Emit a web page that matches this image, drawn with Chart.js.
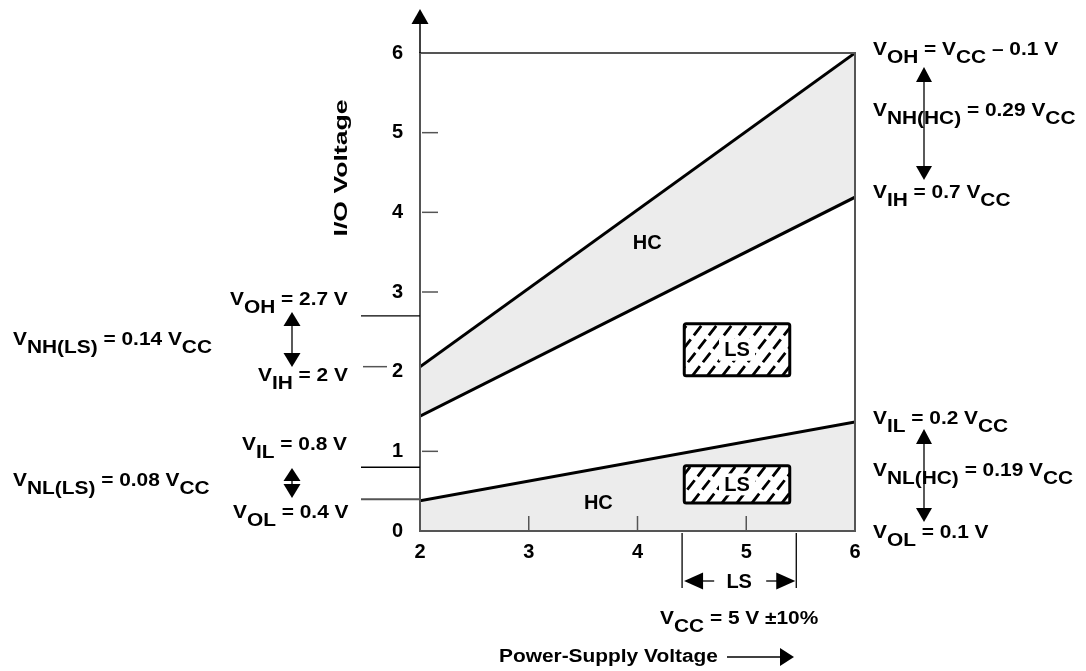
<!DOCTYPE html>
<html><head><meta charset="utf-8">
<script src="https://cdn.jsdelivr.net/npm/chart.js@4/dist/chart.umd.min.js"></script>
<style>html,body{margin:0;padding:0;background:#fff;}#wrap{width:1086px;height:671px;}</style>
</head><body><div id="wrap"><canvas id="c" width="1086" height="671"></canvas></div>
<script>
// ---- data ----
const vccEnds = [2, 6];                 // power-supply voltage at the line ends
const vohHC = [2.06, 6.0];              // VOH = VCC - 0.1 V
const vihHC = [1.44, 4.19];             // VIH = 0.7 VCC
const vilHC = [0.38, 1.37];             // VIL = 0.2 VCC
const xTickValues = [2, 3, 4, 5, 6];
const yTickValues = [0, 1, 2, 3, 4, 5, 6];
const xInnerTicks = [3, 4, 5];
const yInnerTicks = [1, 3, 4, 5];
const yOuterTicks = [2];
const lsVccRange = [4.41, 5.46];        // VCC = 5 V +-10 %
const lsBoxVcc = [4.43, 5.4];
const lsHighBand = [1.95, 2.6];
const lsLowBand = [0.35, 0.82];
const lsLevels = [2.7, 0.8, 0.4];       // VOH, VIL, VOL (LS)
const hcLabelPoints = [[4.09, 3.61], [3.64, 0.35]];

const FONT = '"Liberation Sans", Arial, Helvetica, sans-serif';
const SX = 1.16;    // horizontal stretch of annotation text
const SUBDY = 8;

function rich(ctx, x, y, parts, size) {
  ctx.save();
  ctx.translate(x, y);
  ctx.scale(SX, 1);
  ctx.font = 'bold ' + (size || 18) + 'px ' + FONT;
  ctx.textAlign = 'left';
  ctx.textBaseline = 'alphabetic';
  ctx.fillStyle = '#000';
  let cx = 0;
  parts.forEach((p, i) => {
    ctx.fillText(p, cx, i % 2 === 1 ? SUBDY : 0);
    cx += ctx.measureText(p).width;
  });
  ctx.restore();
}
function tri(ctx, tipX, tipY, dir, len, half) {
  ctx.beginPath();
  if (dir === 'up') { ctx.moveTo(tipX, tipY); ctx.lineTo(tipX - half, tipY + len); ctx.lineTo(tipX + half, tipY + len); }
  else if (dir === 'down') { ctx.moveTo(tipX, tipY); ctx.lineTo(tipX - half, tipY - len); ctx.lineTo(tipX + half, tipY - len); }
  else if (dir === 'left') { ctx.moveTo(tipX, tipY); ctx.lineTo(tipX + len, tipY - half); ctx.lineTo(tipX + len, tipY + half); }
  else { ctx.moveTo(tipX, tipY); ctx.lineTo(tipX - len, tipY - half); ctx.lineTo(tipX - len, tipY + half); }
  ctx.closePath(); ctx.fillStyle = '#000'; ctx.fill();
}
function line(ctx, x0, y0, x1, y1, w, col) {
  ctx.beginPath(); ctx.moveTo(x0, y0); ctx.lineTo(x1, y1);
  ctx.lineWidth = w; ctx.strokeStyle = col || '#000'; ctx.stroke();
}
function lsBox(ctx, x0, x1, y0, y1) {
  ctx.save();
  ctx.fillStyle = '#fff'; ctx.fillRect(x0, y0, x1 - x0, y1 - y0);
  ctx.beginPath(); ctx.rect(x0, y0, x1 - x0, y1 - y0); ctx.clip();
  ctx.strokeStyle = '#000'; ctx.lineWidth = 2.8; ctx.setLineDash([12, 5]);
  const h = y1 - y0;
  for (let s = x0 - h; s < x1 + h; s += 15) {
    ctx.beginPath(); ctx.moveTo(s, y1); ctx.lineTo(s + h * 0.78, y0); ctx.stroke();
  }
  ctx.restore();
  const cx = (x0 + x1) / 2, cy = (y0 + y1) / 2;
  ctx.fillStyle = '#fff'; ctx.fillRect(cx - 18, cy - 11, 36, 22);
  ctx.save();
  ctx.strokeStyle = '#000'; ctx.lineWidth = 3;
  ctx.beginPath(); ctx.roundRect(x0, y0, x1 - x0, y1 - y0, 2); ctx.stroke();
  ctx.restore();
  ctx.fillStyle = '#000'; ctx.font = 'bold 20px ' + FONT;
  ctx.textAlign = 'center'; ctx.textBaseline = 'middle';
  ctx.fillText('LS', cx, cy + 1);
}

const decor = {
  id: 'decor',
  afterDatasetsDraw(chart) {
    const ctx = chart.ctx, xs = chart.scales.x, ys = chart.scales.y, a = chart.chartArea;
    ctx.save();
    // frame
    ctx.strokeStyle = '#555'; ctx.lineWidth = 2;
    ctx.strokeRect(a.left, a.top, a.right - a.left, a.bottom - a.top);
    // y axis arrow
    line(ctx, a.left, a.top, a.left, 22, 1.5, '#000');
    tri(ctx, a.left, 9, 'up', 15, 8.5);
    // inner ticks
    xInnerTicks.forEach(v => { const px = xs.getPixelForValue(v); line(ctx, px, a.bottom, px, a.bottom - 15, 1.5, '#555'); });
    yInnerTicks.forEach(v => { const py = ys.getPixelForValue(v); line(ctx, a.left + 2, py, a.left + 18, py, 1.5, '#555'); });
    yOuterTicks.forEach(v => { const py = ys.getPixelForValue(v) - 5; line(ctx, a.left - 57, py, a.left - 33, py, 1.5, '#555'); });
    // LS level lines
    lsLevels.forEach((v, i) => {
      const py = ys.getPixelForValue(v);
      line(ctx, a.left - 59, py, a.left, py, i === 2 ? 2 : 1.3, i === 2 ? '#555' : '#000');
    });
    // LS boxes
    const bx0 = xs.getPixelForValue(lsBoxVcc[0]), bx1 = xs.getPixelForValue(lsBoxVcc[1]);
    lsBox(ctx, bx0, bx1, ys.getPixelForValue(lsHighBand[1]), ys.getPixelForValue(lsHighBand[0]));
    lsBox(ctx, bx0, bx1, ys.getPixelForValue(lsLowBand[1]), ys.getPixelForValue(lsLowBand[0]));
    // HC labels
    ctx.fillStyle = '#000'; ctx.font = 'bold 20px ' + FONT; ctx.textAlign = 'center'; ctx.textBaseline = 'middle';
    hcLabelPoints.forEach(p => ctx.fillText('HC', xs.getPixelForValue(p[0]), ys.getPixelForValue(p[1])));
    // axis title
    ctx.save(); ctx.translate(342, 168); ctx.rotate(-Math.PI / 2); ctx.scale(1.4, 1);
    ctx.font = 'bold 19px ' + FONT; ctx.textAlign = 'center'; ctx.textBaseline = 'middle';
    ctx.fillText('I/O Voltage', 0, 0); ctx.restore();

    // right-hand annotations
    rich(ctx, 873, 55, ['V', 'OH', ' = V', 'CC', ' \u2013 0.1 V']);
    rich(ctx, 873, 116, ['V', 'NH(HC)', ' = 0.29 V', 'CC']);
    rich(ctx, 873, 198, ['V', 'IH', ' = 0.7 V', 'CC']);
    line(ctx, 924, 80, 924, 168, 1.3);
    tri(ctx, 924, 67, 'up', 15, 8);
    tri(ctx, 924, 180, 'down', 14, 8);
    rich(ctx, 873, 424, ['V', 'IL', ' = 0.2 V', 'CC']);
    rich(ctx, 873, 476, ['V', 'NL(HC)', ' = 0.19 V', 'CC']);
    rich(ctx, 873, 538, ['V', 'OL', ' = 0.1 V']);
    line(ctx, 924, 443, 924, 510, 1.3);
    tri(ctx, 924, 429, 'up', 15, 8);
    tri(ctx, 924, 522, 'down', 14, 8);

    // left-hand annotations
    rich(ctx, 13, 345, ['V', 'NH(LS)', ' = 0.14 V', 'CC']);
    rich(ctx, 230, 305, ['V', 'OH', ' = 2.7 V']);
    rich(ctx, 258, 381, ['V', 'IH', ' = 2 V']);
    line(ctx, 292, 322, 292, 355, 1.3);
    tri(ctx, 292, 312, 'up', 14, 8.5);
    tri(ctx, 292, 367, 'down', 14, 8.5);
    rich(ctx, 242, 450, ['V', 'IL', ' = 0.8 V']);
    rich(ctx, 13, 486, ['V', 'NL(LS)', ' = 0.08 V', 'CC']);
    rich(ctx, 233, 518, ['V', 'OL', ' = 0.4 V']);
    line(ctx, 292, 478, 292, 486, 1.3);
    tri(ctx, 292, 468, 'up', 13, 8.5);
    tri(ctx, 292, 498, 'down', 14, 8.5);

    // LS supply range under the x axis
    const r0 = xs.getPixelForValue(lsVccRange[0]), r1 = xs.getPixelForValue(lsVccRange[1]);
    line(ctx, r0, a.bottom + 2, r0, 588, 1.3);
    line(ctx, r1, a.bottom + 2, r1, 588, 1.3);
    const ay = 581, mid = (r0 + r1) / 2;
    tri(ctx, r0 + 2, ay, 'left', 19, 8.5);
    tri(ctx, r1 - 1, ay, 'right', 19, 8.5);
    line(ctx, r0 + 20, ay, mid - 25, ay, 1.3);
    line(ctx, mid + 27, ay, r1 - 19, ay, 1.3);
    ctx.fillStyle = '#000'; ctx.font = 'bold 20px ' + FONT; ctx.textAlign = 'center'; ctx.textBaseline = 'middle';
    ctx.fillText('LS', mid, ay + 1);
    rich(ctx, 660, 624, ['V', 'CC', ' = 5 V \u00b110%']);
    // x axis title
    rich(ctx, 499, 662, ['Power-Supply Voltage']);
    line(ctx, 727, 657, 781, 657, 1.3);
    tri(ctx, 794, 657, 'right', 14, 9);
    ctx.restore();
  }
};

const pts = arr => vccEnds.map((x, i) => ({ x: x, y: arr[i] }));

new Chart(document.getElementById('c'), {
  type: 'line',
  data: {
    datasets: [
      { label: 'VOH', data: pts(vohHC), borderColor: '#000', borderWidth: 3, pointRadius: 0, fill: '+1', backgroundColor: '#ececec' },
      { label: 'VIH', data: pts(vihHC), borderColor: '#000', borderWidth: 3, pointRadius: 0, fill: false },
      { label: 'VIL', data: pts(vilHC), borderColor: '#000', borderWidth: 3, pointRadius: 0, fill: 'origin', backgroundColor: '#ececec' }
    ]
  },
  options: {
    responsive: false, animation: false, devicePixelRatio: 1,
    layout: { padding: { left: 360, right: 231, top: 53, bottom: 100 } },
    plugins: { legend: { display: false }, tooltip: { enabled: false }, filler: { drawTime: 'beforeDatasetsDraw' } },
    scales: {
      x: {
        type: 'linear', min: 2, max: 6,
        afterFit: s => { s.height = 40; },
        afterBuildTicks: s => { s.ticks = xTickValues.map(v => ({ value: v })); },
        grid: { display: false, drawTicks: false }, border: { display: false },
        ticks: { color: '#000', font: { family: FONT, size: 20, weight: 'bold' }, padding: 9, maxRotation: 0, autoSkip: false }
      },
      y: {
        type: 'linear', min: 0, max: 6,
        afterFit: s => { s.width = 60; },
        afterBuildTicks: s => { s.ticks = yTickValues.map(v => ({ value: v })); },
        grid: { display: false, drawTicks: false }, border: { display: false },
        ticks: { color: '#000', font: { family: FONT, size: 20, weight: 'bold' }, padding: 17, autoSkip: false }
      }
    }
  },
  plugins: [decor]
});
</script></body></html>
